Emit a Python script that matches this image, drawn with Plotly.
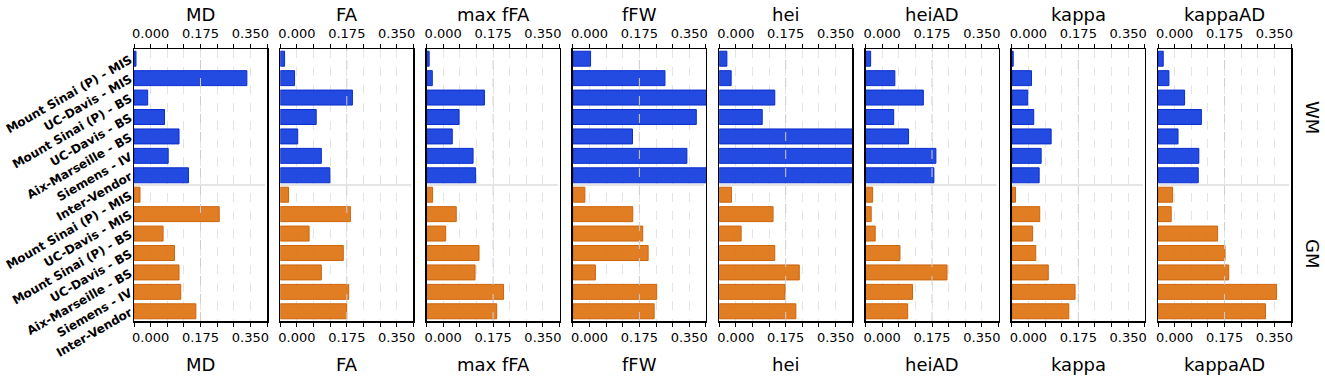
import plotly.graph_objects as go

# ---------------- data ----------------
sites = ["Mount Sinai (P) - MIS", "UC-Davis - MIS", "Mount Sinai (P) - BS",
         "UC-Davis - BS", "Aix-Marseille - BS", "Siemens - IV", "Inter-Vendor"]
metrics = ["MD", "FA", "max fFA", "fFW", "hei", "heiAD", "kappa", "kappaAD"]
groups = ["WM", "GM"]

wm_md = [0.007, 0.396, 0.048, 0.107, 0.158, 0.120, 0.191]
gm_md = [0.021, 0.299, 0.102, 0.142, 0.158, 0.164, 0.217]
wm_fa = [0.015, 0.050, 0.253, 0.126, 0.061, 0.144, 0.174]
gm_fa = [0.029, 0.246, 0.101, 0.221, 0.144, 0.240, 0.233]
wm_maxffa = [0.009, 0.020, 0.203, 0.114, 0.090, 0.163, 0.172]
gm_maxffa = [0.021, 0.104, 0.067, 0.184, 0.170, 0.270, 0.246]
wm_ffw = [0.062, 0.323, 0.520, 0.433, 0.209, 0.400, 0.550]
gm_ffw = [0.042, 0.210, 0.245, 0.264, 0.079, 0.294, 0.285]
wm_hei = [0.027, 0.042, 0.195, 0.151, 0.600, 0.550, 0.520]
gm_hei = [0.043, 0.189, 0.077, 0.195, 0.281, 0.231, 0.269]
wm_heiad = [0.018, 0.103, 0.203, 0.099, 0.151, 0.247, 0.240]
gm_heiad = [0.025, 0.020, 0.034, 0.121, 0.286, 0.165, 0.148]
wm_kappa = [0.005, 0.069, 0.056, 0.077, 0.138, 0.103, 0.096]
gm_kappa = [0.013, 0.098, 0.073, 0.084, 0.128, 0.222, 0.200]
wm_kappaad = [0.018, 0.038, 0.093, 0.152, 0.070, 0.143, 0.141]
gm_kappaad = [0.051, 0.046, 0.209, 0.235, 0.248, 0.416, 0.377]

wm_values = [wm_md, wm_fa, wm_maxffa, wm_ffw, wm_hei, wm_heiad, wm_kappa, wm_kappaad]
gm_values = [gm_md, gm_fa, gm_maxffa, gm_ffw, gm_hei, gm_heiad, gm_kappa, gm_kappaad]

tick_step = 0.175 / 3
tick_vals = [k * tick_step for k in range(9)]
tick_text = ["", "0.000", "", "", "0.175", "", "", "0.350", ""]

# ---------------- layout geometry ----------------
W, H = 1325, 379
ML, MR, MT, MB = 134, 34, 49, 58
PW = W - ML - MR
PH = H - MT - MB
panel_w = 133.0
panel_pitch = 146.3

FONT = "DejaVu Sans"
blue_fill = "rgba(11,55,222,0.9)"
blue_edge = "rgb(10,45,205)"
orange_fill = "rgba(222,112,12,0.9)"
orange_edge = "rgb(205,100,10)"

fig = go.Figure()
layout = {}
shapes = []
annotations = []

ypos_wm = list(range(7))
ypos_gm = list(range(7, 14))

for i, m in enumerate(metrics):
    n = i + 1
    xb = "x" if n == 1 else f"x{n}"
    xt = f"x{n + 8}"
    ya = "y" if n == 1 else f"y{n}"
    xb_key = "xaxis" if n == 1 else f"xaxis{n}"
    xt_key = f"xaxis{n + 8}"
    y_key = "yaxis" if n == 1 else f"yaxis{n}"

    fig.add_trace(go.Bar(
        x=wm_values[i], y=ypos_wm, orientation="h", width=0.77,
        marker=dict(color=blue_fill, line=dict(color=blue_edge, width=1)),
        xaxis=xt, yaxis=ya, showlegend=False, name="WM"))
    fig.add_trace(go.Bar(
        x=gm_values[i], y=ypos_gm, orientation="h", width=0.77,
        marker=dict(color=orange_fill, line=dict(color=orange_edge, width=1)),
        xaxis=xb, yaxis=ya, showlegend=False, name="GM"))

    x0 = i * panel_pitch / PW
    x1 = min(1.0, x0 + panel_w / PW)
    common = dict(
        domain=[x0, x1], range=[0, 8 * tick_step], tickmode="array",
        tickvals=tick_vals, ticktext=tick_text, ticks="outside", ticklen=4,
        tickwidth=1, tickcolor="black", showline=True, linecolor="black",
        linewidth=1.5, zeroline=False, fixedrange=True, automargin=False,
        tickfont=dict(family=FONT, size=13, color="black"),
    )
    layout[xb_key] = dict(common, anchor=ya, side="bottom", showgrid=True,
                          gridcolor="#e4e4e4", griddash="dash", gridwidth=1)
    layout[xt_key] = dict(common, anchor=ya, side="top", overlaying=xb,
                          showgrid=False)
    ycfg = dict(domain=[0, 1], anchor=xb, range=[13.5, -0.5], showline=True,
                mirror=True, linecolor="black", linewidth=1.5, showgrid=False,
                zeroline=False, ticks="", fixedrange=True, automargin=False)
    if n == 1:
        ycfg.update(tickmode="array", tickvals=list(range(14)),
                    ticktext=sites + sites, tickangle=-30,
                    tickfont=dict(family=FONT, size=12, color="black", weight="bold"))
    else:
        ycfg.update(showticklabels=False)
    layout[y_key] = ycfg

    # central dashed reference line
    shapes.append(dict(type="line", xref=xb, yref=f"{ya} domain",
                       x0=4 * tick_step, x1=4 * tick_step, y0=0, y1=1,
                       line=dict(color="#cdcdcd", width=1, dash="dash"),
                       layer="above"))
    # WM / GM divider
    shapes.append(dict(type="line", xref=f"{xb} domain", yref=ya,
                       x0=0, x1=0.985, y0=6.5, y1=6.5,
                       line=dict(color="#dcdcdc", width=1.5), layer="below"))

    annotations.append(dict(text=m, xref=f"{xb} domain", yref="paper", x=0.5,
                            y=(PH + MT - 14) / PH, yanchor="middle",
                            showarrow=False,
                            font=dict(family=FONT, size=18, color="black")))
    annotations.append(dict(text=m, xref=f"{xb} domain", yref="paper", x=0.5,
                            y=(PH - (364 - MT)) / PH, yanchor="middle",
                            showarrow=False,
                            font=dict(family=FONT, size=18, color="black")))

for g, ycen in zip(groups, [117, 253]):
    annotations.append(dict(text=g, xref="paper", yref="paper",
                            x=(1313 - ML) / PW, y=(H - MB - ycen) / PH,
                            xanchor="center", yanchor="middle", textangle=90,
                            showarrow=False,
                            font=dict(family=FONT, size=18, color="black")))

fig.update_layout(
    width=W, height=H,
    margin=dict(l=ML, r=MR, t=MT, b=MB, autoexpand=False),
    plot_bgcolor="white", paper_bgcolor="white",
    barmode="overlay", bargap=0,
    font=dict(family=FONT, color="black"),
    shapes=shapes, annotations=annotations,
    hovermode=False,
    **layout,
)

fig.write_html("out.html", config={"displayModeBar": False, "staticPlot": True},
               post_script="document.body.style.margin='0';document.body.style.overflow='hidden';")
